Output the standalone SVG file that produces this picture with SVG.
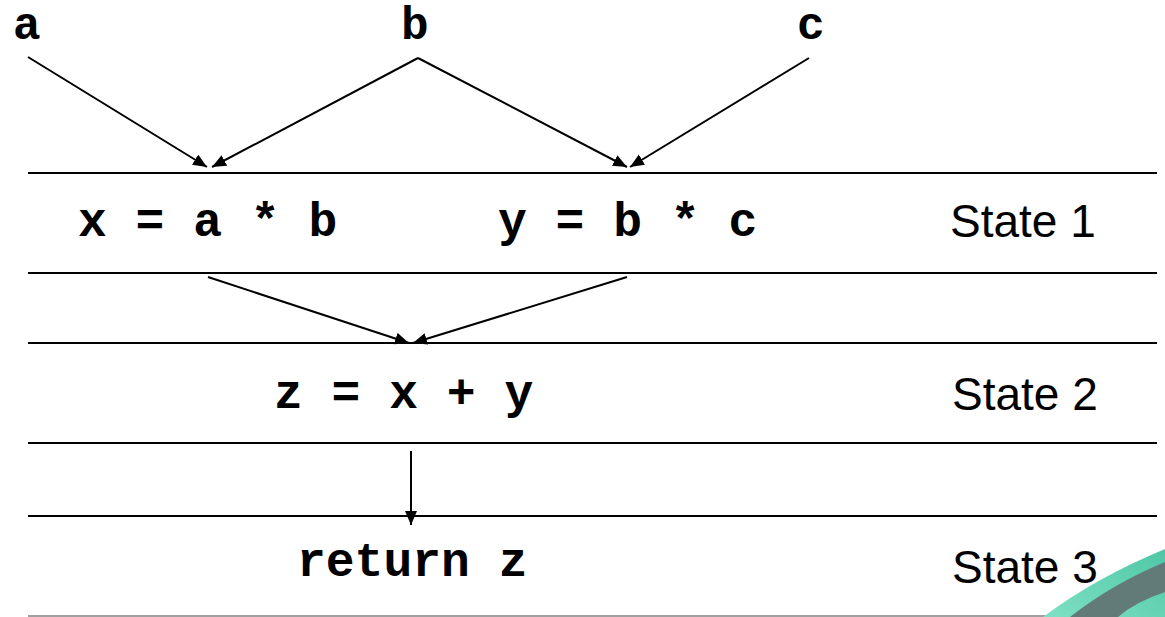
<svg xmlns="http://www.w3.org/2000/svg" width="1165" height="617" viewBox="0 0 1165 617">
  <style>
    .code { font-family: "Liberation Mono", "Courier New", monospace; font-weight: bold; font-size: 48px; fill: #000; }
    .top { font-size: 46px; }
    .state { font-family: "Liberation Sans", Arial, sans-serif; font-size: 46px; fill: #000; }
    .rule { stroke: #000; stroke-width: 2; }
    .conn { stroke: #000; stroke-width: 2; fill: none; marker-end: url(#arrow); }
  </style>
  <defs>
    <marker id="arrow" markerUnits="userSpaceOnUse" markerWidth="15" markerHeight="13" refX="14" refY="6" orient="auto">
      <path d="M0,0 L14,6 L0,12 Z" fill="#000"/>
    </marker>
    <linearGradient id="teal" x1="0" y1="1" x2="1" y2="0">
      <stop offset="0" stop-color="#7fe0c4"/>
      <stop offset="1" stop-color="#4fc7a6"/>
    </linearGradient>
  </defs>
  <rect width="1165" height="617" fill="#fff"/>

  <g id="rules">
    <line class="rule" x1="28" y1="173" x2="1157" y2="173"/>
    <line class="rule" x1="28" y1="273" x2="1157" y2="273"/>
    <line class="rule" x1="28" y1="343" x2="1157" y2="343"/>
    <line class="rule" x1="28" y1="443" x2="1157" y2="443"/>
    <line class="rule" x1="28" y1="516" x2="1157" y2="516"/>
    <line x1="28" y1="616" x2="1165" y2="616" stroke="#a0a0a0" stroke-width="2"/>
  </g>

  <g id="decoration">
    <path d="M1043,617 Q1095,578 1165,549 L1165,617 Z" fill="url(#teal)"/>
    <path d="M1070,617 Q1112,584 1165,562 L1165,592 Q1135,602 1118,617 Z" fill="#627b79"/>
  </g>

  <g id="connectors">
    <line class="conn" x1="28" y1="57" x2="207" y2="167"/>
    <line class="conn" x1="418" y1="58" x2="212" y2="167"/>
    <line class="conn" x1="418" y1="58" x2="627" y2="167"/>
    <line class="conn" x1="809" y1="58" x2="630" y2="167"/>
    <line class="conn" x1="208" y1="277" x2="409" y2="343"/>
    <line class="conn" x1="627" y1="277" x2="413" y2="343"/>
    <line class="conn" x1="411" y1="451" x2="411" y2="525"/>
  </g>

  <g id="node-a"><text class="code top" x="13" y="39">a</text></g>
  <g id="node-b"><text class="code top" x="401" y="39">b</text></g>
  <g id="node-c"><text class="code top" x="797" y="39">c</text></g>
  <g id="node-x"><text class="code" x="78" y="236" xml:space="preserve">x = a * b</text></g>
  <g id="node-y"><text class="code" x="498" y="236" xml:space="preserve">y = b * c</text></g>
  <g id="node-z"><text class="code" x="274" y="408" xml:space="preserve">z = x + y</text></g>
  <g id="node-return"><text class="code" x="297" y="576" xml:space="preserve">return z</text></g>

  <g id="state-1"><text class="state" x="950" y="237">State 1</text></g>
  <g id="state-2"><text class="state" x="952" y="410">State 2</text></g>
  <g id="state-3"><text class="state" x="952" y="583">State 3</text></g>
</svg>
